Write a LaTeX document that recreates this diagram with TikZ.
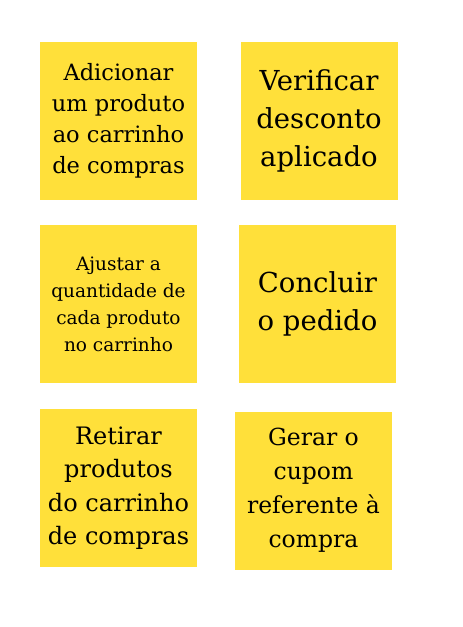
\documentclass[tikz,border=0pt]{standalone}
\usepackage{fontspec}
\setmainfont{DejaVu Serif}
\definecolor{notey}{RGB}{255,224,58}
\begin{document}
\begin{tikzpicture}[
        x=1pt, y=-1pt,
        note/.style={fill=notey, draw=none, inner sep=0pt, align=center,
            minimum width=157pt, minimum height=158pt, text=black},
        smallt/.style={font=\fontsize{18.5}{27}\selectfont},
        midt/.style={font=\fontsize{22.5}{31}\selectfont},
        bigt/.style={font=\fontsize{24}{33.5}\selectfont},
        huget/.style={font=\fontsize{27.5}{38}\selectfont},
    ]
    \useasboundingbox (0,0) rectangle (463,627);
    % first row
    \node[note, midt](add) at (118.5,121) {Adicionar\\um produto\\ao carrinho\\de compras};
    \node[note, huget](check) at (319,121) {\rule{0pt}{2pt}Verificar\\desconto\\aplicado};
    % second row
    \node[note, smallt](adjust) at (118.5,304) {Ajustar a\\quantidade de\\cada produto\\no carrinho};
    \node[note, huget](finish) at (317.5,304) {\rule{0pt}{2pt}Concluir\\o pedido};
    % third row
    \node[note, bigt](remove) at (118.5,488) {Retirar\\produtos\\do carrinho\\de compras};
    \node[note, font=\fontsize{23.5}{34}\selectfont](coupon) at (313.5,490.5) {Gerar o\\cupom\\referente à\\compra};
\end{tikzpicture}
\end{document}
